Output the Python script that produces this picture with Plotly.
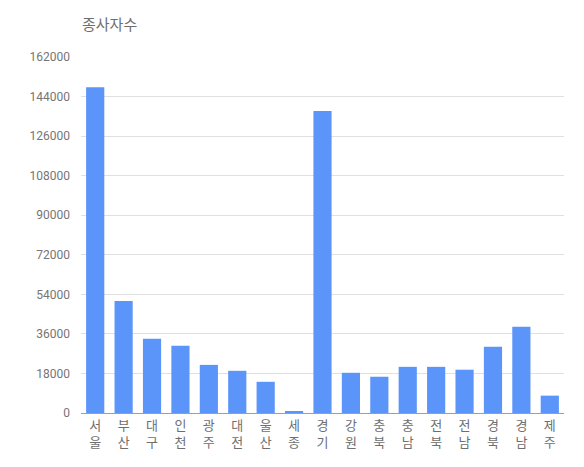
import plotly.graph_objects as go

# 지역별 종사자수
regions = ['서울', '부산', '대구', '인천', '광주', '대전', '울산', '세종', '경기',
           '강원', '충북', '충남', '전북', '전남', '경북', '경남', '제주']
workers = [148200, 51000, 33800, 30600, 21900, 19200, 14200, 800, 137400,
           18300, 16500, 21000, 21000, 19700, 30200, 39200, 7900]
y_ticks = [0, 18000, 36000, 54000, 72000, 90000, 108000, 126000, 144000, 162000]

# 세로로 쌓인 글자 라벨
x_labels = ['<br>'.join(list(r)) for r in regions]

fig = go.Figure(data=[go.Bar(x=regions, y=workers, marker_color='#5b95f9',
                             marker_line_width=0)])

# 페이지 body 여백(8px)만큼 당겨서 배치
fig.update_layout(
    width=584, height=467,
    margin=dict(l=73, r=28, t=49, b=62),
    paper_bgcolor='white', plot_bgcolor='white',
    font=dict(family='Roboto, Noto Sans CJK KR', color='#757575', size=12),
    bargap=0.36,
    showlegend=False,
    title=dict(text='종사자수', x=74/584, xanchor='left', xref='container',
               y=1-17/467, yanchor='middle', yref='container',
               font=dict(family='Noto Sans CJK KR', size=15, color='#6e6e6e')),
)
fig.update_xaxes(tickvals=regions, ticktext=x_labels, showgrid=False,
                 showline=True, linecolor='#9e9e9e', linewidth=1, ticks='',
                 tickfont=dict(family='Noto Sans CJK KR', size=13, color='#6e6e6e'))
fig.update_yaxes(range=[0, 162000], tickvals=y_ticks,
                 ticktext=[str(v) for v in y_ticks],
                 showgrid=True, gridcolor='#e0e0e0', gridwidth=1, zeroline=False,
                 ticks='', ticklabelstandoff=10,
                 tickfont=dict(size=12, color='#757575'))

fig.write_html("out.html")
print("completed")
